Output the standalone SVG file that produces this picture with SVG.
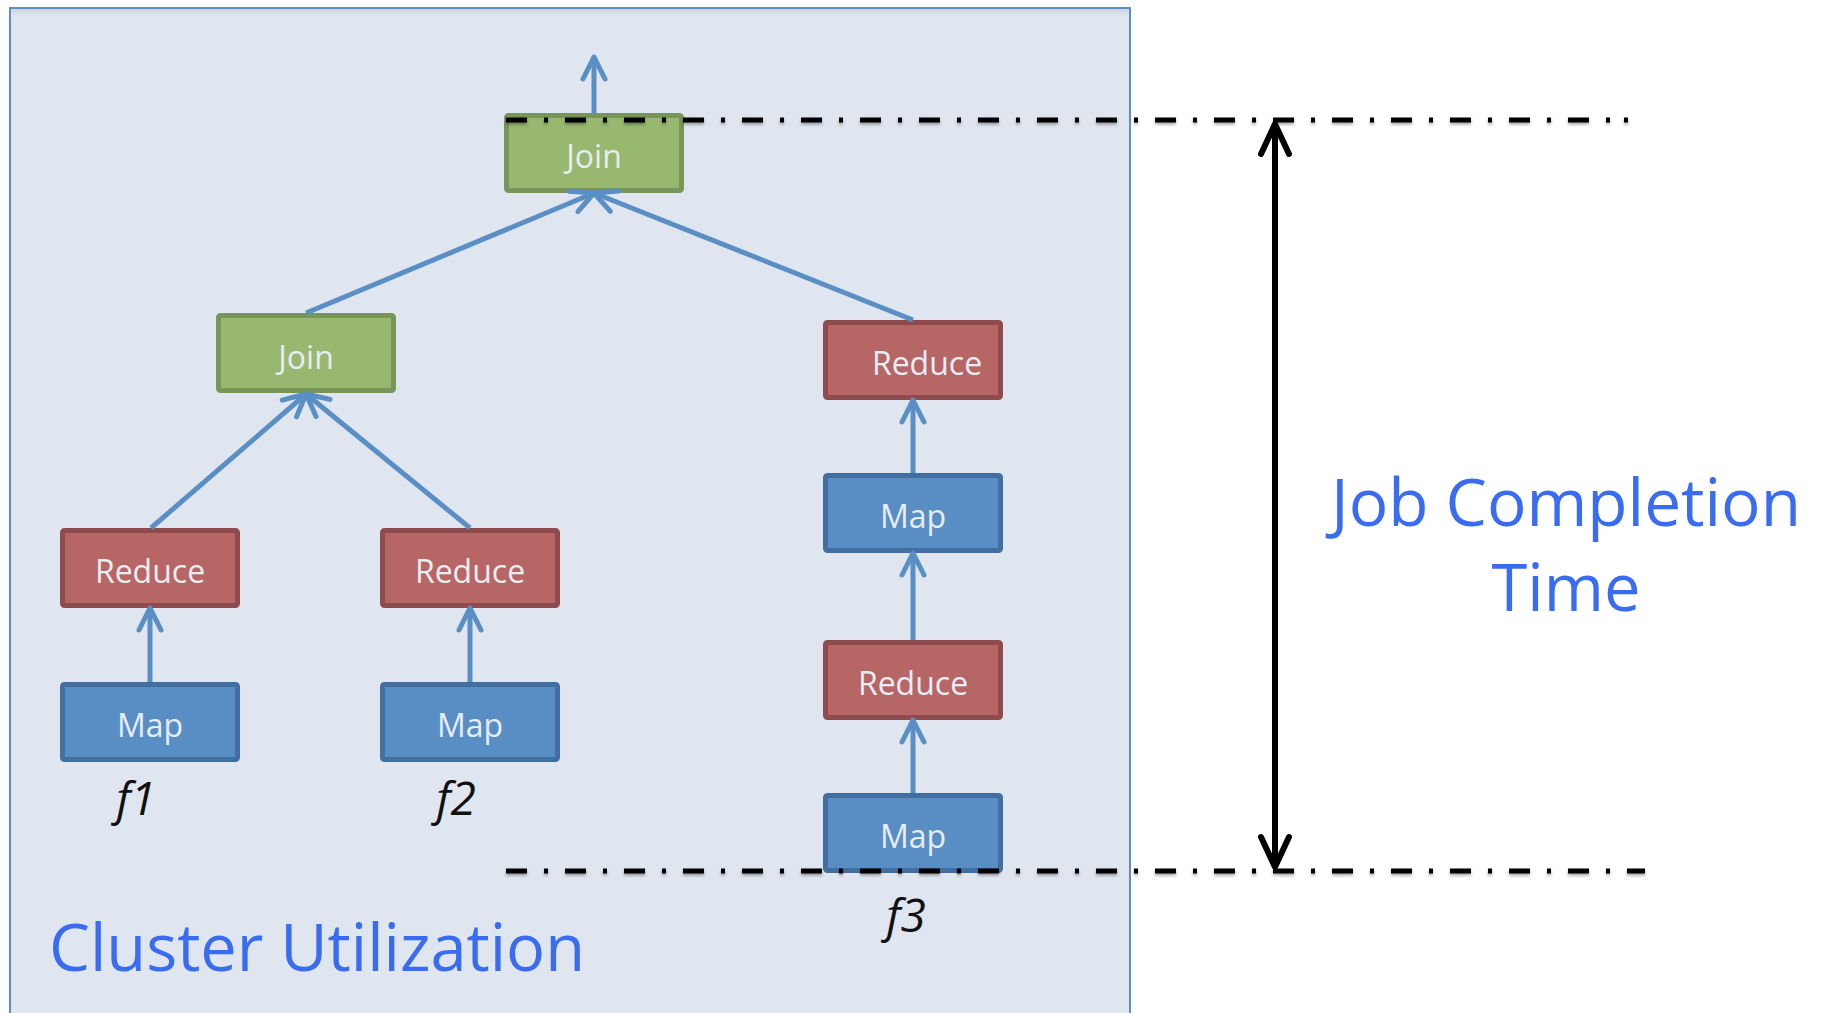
<svg xmlns="http://www.w3.org/2000/svg" width="1824" height="1013" viewBox="0 0 1824 1013">
  <defs>
    <style>
      .node rect { stroke-width: 5; }
      .join rect { fill: #98b870; stroke: #78955a; }
      .reduce rect { fill: #b76666; stroke: #8e4a4c; }
      .map rect { fill: #598ec4; stroke: #426f9f; }
      .node text { font-family: "Open Sans", "Noto Sans", "Liberation Sans", sans-serif; font-size: 32px; fill: #e6edf5; text-anchor: middle; }
      .edge { fill: none; stroke: #5a8fc5; stroke-width: 5; marker-end: url(#blueHead); }
      .fn { font-family: "Open Sans", "Noto Sans", "Liberation Sans", sans-serif; font-style: italic; font-size: 46px; fill: #111; text-anchor: middle; }
      .big { font-family: "Open Sans", "Noto Sans", "Liberation Sans", sans-serif; font-size: 65px; fill: #3a6cf2; }
      .dashdot { fill: none; stroke: #000; stroke-width: 5; stroke-dasharray: 21 17 4 17; filter: url(#soft); }
    </style>
    <marker id="blueHead" markerUnits="userSpaceOnUse" orient="auto" refX="0" refY="0" markerWidth="40" markerHeight="40" overflow="visible">
      <path d="M-22,-11 L0,0 L-22,11" fill="none" stroke="#5a8fc5" stroke-width="5" stroke-linecap="round" stroke-linejoin="round"/>
    </marker>
    <marker id="blackHead" markerUnits="userSpaceOnUse" orient="auto-start-reverse" refX="0" refY="0" markerWidth="60" markerHeight="60" overflow="visible">
      <path d="M-30,-14 L0,0 L-30,14" fill="none" stroke="#000" stroke-width="6" stroke-linecap="round" stroke-linejoin="round"/>
    </marker>
    <!-- soft shadow under the dash-dot guides; region in user space since the lines have zero height -->
    <filter id="soft" filterUnits="userSpaceOnUse" x="0" y="0" width="1824" height="1013">
      <feDropShadow dx="0" dy="2" stdDeviation="1.5" flood-color="#000" flood-opacity="0.35"/>
    </filter>
    <linearGradient id="panelTop" x1="0" y1="0" x2="0" y2="1">
      <stop offset="0" stop-color="#c9d3de"/>
      <stop offset="1" stop-color="#dfe6ef" stop-opacity="0"/>
    </linearGradient>
  </defs>

  <rect x="0" y="0" width="1824" height="1013" fill="#ffffff"/>

  <!-- cluster panel -->
  <g id="cluster-panel">
    <rect x="10" y="8" width="1120" height="1012" fill="#dfe6ef" stroke="#5b8fc9" stroke-width="2"/>
    <rect x="11" y="9" width="1118" height="10" fill="url(#panelTop)"/>
    <text class="big" x="49" y="971" textLength="536" lengthAdjust="spacingAndGlyphs">Cluster Utilization</text>
  </g>

  <!-- operator nodes -->
  <g id="join-top" class="node join">
    <rect x="506.5" y="115.5" width="175" height="75" rx="2"/>
    <text x="594" y="168">Join</text>
  </g>
  <g id="join-left" class="node join">
    <rect x="218.5" y="315.5" width="175" height="75" rx="2"/>
    <text x="306" y="369">Join</text>
  </g>
  <g id="reduce-f1" class="node reduce">
    <rect x="62.5" y="530.5" width="175" height="75" rx="2"/>
    <text x="150" y="583">Reduce</text>
  </g>
  <g id="map-f1" class="node map">
    <rect x="62.5" y="684.5" width="175" height="75" rx="2"/>
    <text x="150" y="737">Map</text>
  </g>
  <g id="reduce-f2" class="node reduce">
    <rect x="382.5" y="530.5" width="175" height="75" rx="2"/>
    <text x="470" y="583">Reduce</text>
  </g>
  <g id="map-f2" class="node map">
    <rect x="382.5" y="684.5" width="175" height="75" rx="2"/>
    <text x="470" y="737">Map</text>
  </g>
  <g id="reduce-f3-top" class="node reduce">
    <rect x="825.5" y="322.5" width="175" height="75" rx="2"/>
    <text x="927" y="375">Reduce</text>
  </g>
  <g id="map-f3-mid" class="node map">
    <rect x="825.5" y="475.5" width="175" height="75" rx="2"/>
    <text x="913" y="528">Map</text>
  </g>
  <g id="reduce-f3-low" class="node reduce">
    <rect x="825.5" y="642.5" width="175" height="75" rx="2"/>
    <text x="913" y="695">Reduce</text>
  </g>
  <g id="map-f3-base" class="node map">
    <rect x="825.5" y="795.5" width="175" height="75" rx="2"/>
    <text x="913" y="848">Map</text>
  </g>

  <!-- input labels -->
  <g id="inputs">
    <text class="fn" x="136" y="815">f1</text>
    <text class="fn" x="456" y="815">f2</text>
    <text class="fn" x="906" y="932">f3</text>
  </g>

  <!-- data-flow connectors -->
  <g id="connectors">
    <path class="edge" d="M594,113 L594,57"/>
    <path class="edge" d="M306,313 L594,193"/>
    <path class="edge" d="M913,320 L594,193"/>
    <path class="edge" d="M151,528 L306,394"/>
    <path class="edge" d="M470,528 L306,394"/>
    <path class="edge" d="M150,682 L150,608"/>
    <path class="edge" d="M470,682 L470,608"/>
    <path class="edge" d="M913,473 L913,400"/>
    <path class="edge" d="M913,640 L913,553"/>
    <path class="edge" d="M913,793 L913,720"/>
  </g>

  <!-- completion-time span -->
  <g id="completion-span">
    <path class="dashdot" d="M506,120 L1610,120 M1624,120 L1628,120"/>
    <path class="dashdot" d="M506,871 L1645,871"/>
    <path d="M1275,124 L1275,867" fill="none" stroke="#000" stroke-width="6" marker-start="url(#blackHead)" marker-end="url(#blackHead)"/>
    <text class="big" x="1566" y="526" text-anchor="middle" textLength="470" lengthAdjust="spacingAndGlyphs">Job Completion</text>
    <text class="big" x="1566" y="611" text-anchor="middle">Time</text>
  </g>
</svg>
